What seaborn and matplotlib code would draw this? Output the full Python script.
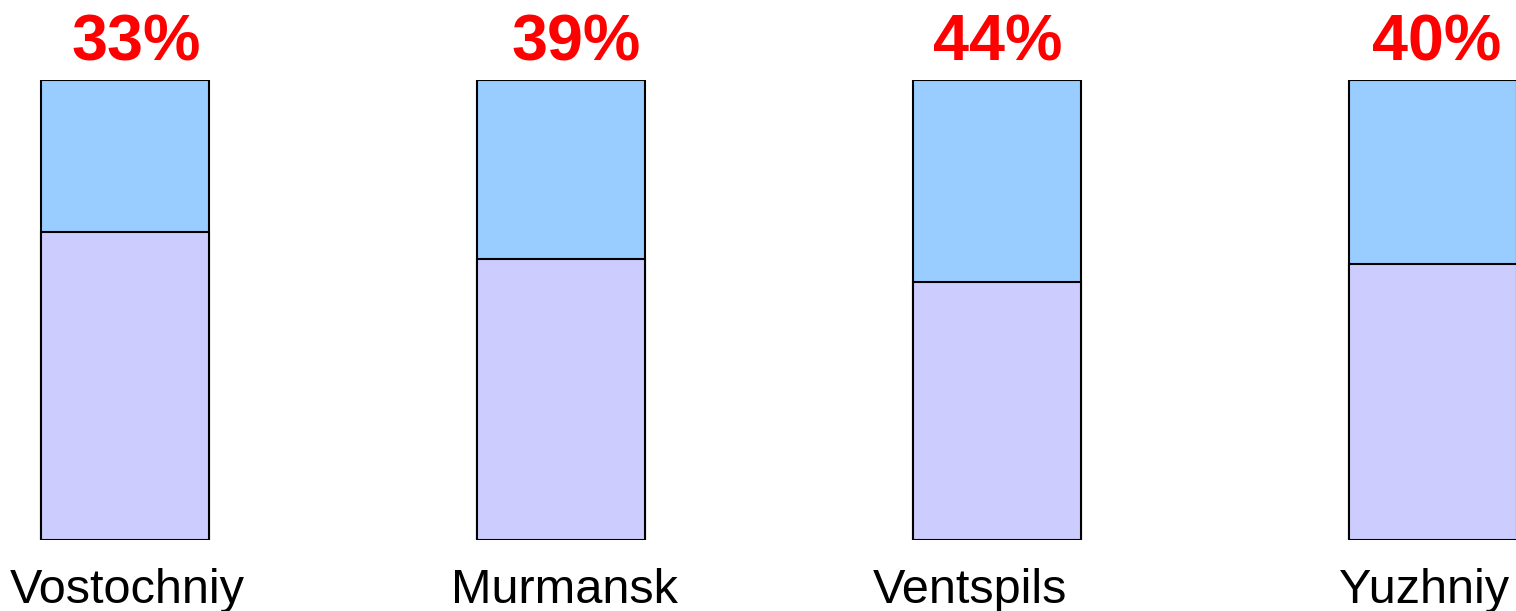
import matplotlib
matplotlib.use("Agg")
import matplotlib.pyplot as plt
import seaborn as sns

# data (share of top segment, %)
ports = ["Vostochniy", "Murmansk", "Ventspils", "Yuzhniy"]
top_share = [33, 39, 44, 40]
bottom_share = [100 - v for v in top_share]
total = [100, 100, 100, 100]

# small horizontal nudges of the texts (in pixels) as seen in the reference
pct_dx = [11, 15, 1, 4]
name_dx = [2, 3, -27, -9]

sns.set_style("white")
plt.rcParams["font.family"] = ["Liberation Sans", "DejaVu Sans"]

fig = plt.figure(figsize=(15.16, 6.11), dpi=100)
ax = fig.add_axes([0, 71 / 611, 1, 460 / 611])

# full bar in blue, lower part painted over in lavender
sns.barplot(x=ports, y=total, color="#99CCFF", saturation=1, width=0.385,
            edgecolor="black", linewidth=1.5, ax=ax)
sns.barplot(x=ports, y=bottom_share, color="#CCCCFF", saturation=1, width=0.385,
            edgecolor="black", linewidth=1.5, ax=ax)

ax.set_xlim(-0.287, 3.19)
ax.set_ylim(0, 100)

px = 436.0  # pixels per category step
for i, (name, v) in enumerate(zip(ports, top_share)):
    ax.text(i + pct_dx[i] / px, 104.3, f"{v}%", color="red", fontsize=46.5,
            fontweight="bold", ha="center", va="baseline", clip_on=False)
    ax.text(i + name_dx[i] / px, -13.7, name, color="black", fontsize=35,
            ha="center", va="baseline", clip_on=False)

ax.set_xticks([])
ax.set_yticks([])
ax.set_xlabel("")
ax.set_ylabel("")
sns.despine(ax=ax, left=True, bottom=True)

fig.savefig("out.png", dpi=100)
